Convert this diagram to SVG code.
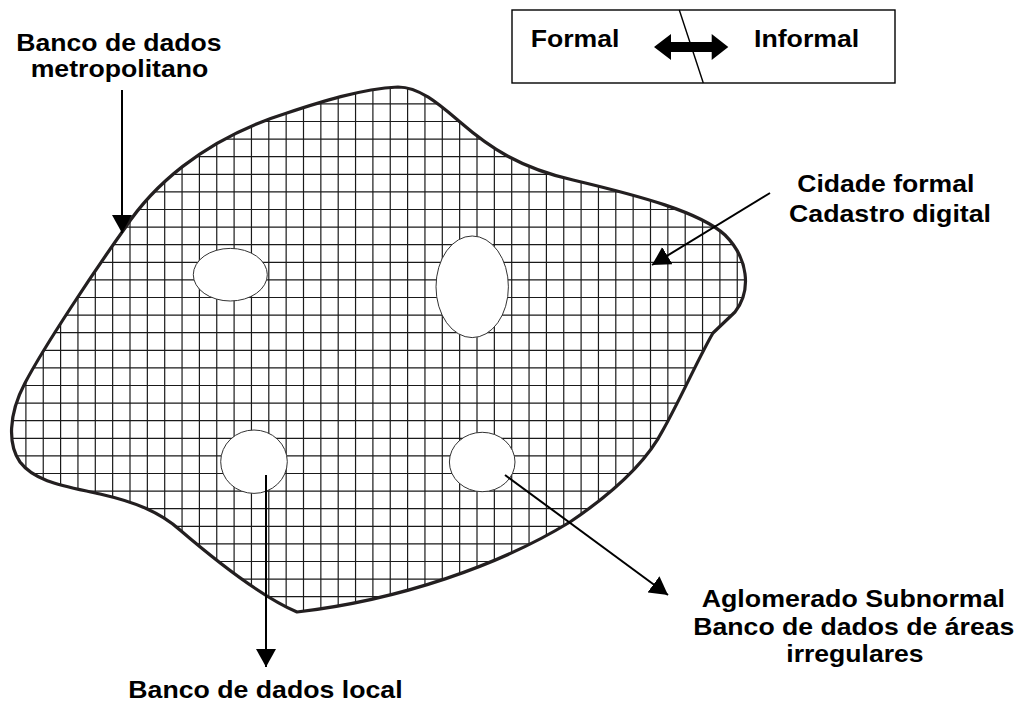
<svg xmlns="http://www.w3.org/2000/svg" width="1017" height="704" viewBox="0 0 1017 704">
<style>
.lbl{font-family:"Liberation Sans",Arial,sans-serif;font-weight:bold;font-size:24px;fill:#000}
.grid{fill:none;stroke:#1a1a1a;stroke-width:1.2}
.hole{fill:#fff;stroke:#333;stroke-width:1}
.blob{fill:none;stroke:#231f20;stroke-width:3.2;stroke-linejoin:round}
.conn{stroke:#000;stroke-width:2;fill:none}
</style>
<defs>
<path id="blobPath" d="M297,612 C262,597 215,560 180,530 C160,512 135,502 100,494 C65,486 35,482 20,462 C8,445 8,415 25,383 C45,345 95,270 125,228 C150,190 200,140 287,113 C320,102 360,89 398,87 C420,87 440,105 460,122 C490,148 520,168 573,180 C640,196 700,212 725,235 C748,258 752,290 735,312 L713,333 C700,355 680,400 663,430 C645,465 610,495 570,522 C500,565 400,600 297,612 Z"/>
<clipPath id="blobClip"><use href="#blobPath"/></clipPath>
<marker id="ah" viewBox="0 0 18 20" refX="18" refY="10" markerWidth="18" markerHeight="20" markerUnits="userSpaceOnUse" orient="auto">
<path d="M0,0 L18,10 L0,20 Z" fill="#000"/>
</marker>
</defs>
<rect width="1017" height="704" fill="#fff"/>

<g id="city">
<use href="#blobPath" fill="#fff"/>
<g clip-path="url(#blobClip)">
<path class="grid" d="M8.55 80V620M25.9 80V620M43.25 80V620M60.6 80V620M77.95 80V620M95.3 80V620M112.65 80V620M130 80V620M147.35 80V620M164.7 80V620M182.05 80V620M199.4 80V620M216.75 80V620M234.1 80V620M251.45 80V620M268.8 80V620M286.15 80V620M303.5 80V620M320.85 80V620M338.2 80V620M355.55 80V620M372.9 80V620M390.25 80V620M407.6 80V620M424.95 80V620M442.3 80V620M459.65 80V620M477 80V620M494.35 80V620M511.7 80V620M529.05 80V620M546.4 80V620M563.75 80V620M581.1 80V620M598.45 80V620M615.8 80V620M633.15 80V620M650.5 80V620M667.85 80V620M685.2 80V620M702.55 80V620M719.9 80V620M737.25 80V620M754.6 80V620"/>
<path class="grid" d="M0 86.3H760M0 103.9H760M0 121.5H760M0 139.1H760M0 156.7H760M0 174.3H760M0 191.9H760M0 209.5H760M0 227.1H760M0 244.7H760M0 262.3H760M0 279.9H760M0 297.5H760M0 315.1H760M0 332.7H760M0 350.3H760M0 367.9H760M0 385.5H760M0 403.1H760M0 420.7H760M0 438.3H760M0 455.9H760M0 473.5H760M0 491.1H760M0 508.7H760M0 526.3H760M0 543.9H760M0 561.5H760M0 579.1H760M0 596.7H760M0 614.3H760"/>
</g>
<use href="#blobPath" class="blob"/>
</g>

<g id="hole1"><ellipse class="hole" cx="230.3" cy="274.7" rx="37" ry="26.3"/></g>
<g id="hole2"><ellipse class="hole" cx="472.2" cy="286.8" rx="36.2" ry="50.8"/></g>
<g id="hole3"><ellipse class="hole" cx="254" cy="461.7" rx="33.3" ry="31.7"/></g>
<g id="hole4"><ellipse class="hole" cx="482.2" cy="462" rx="32.8" ry="29.7"/></g>

<g id="legend">
<rect x="512" y="10" width="383" height="73" fill="#fff" stroke="#000" stroke-width="1.4"/>
<line x1="679.3" y1="10" x2="703.3" y2="83" stroke="#000" stroke-width="1.4"/>
<polygon points="654,47 671,34 671,42 711.7,42 711.7,34 728.3,47 711.7,60 711.7,52 671,52 671,60" fill="#000"/>
<text class="lbl" x="530.7" y="46.7" textLength="88.7" lengthAdjust="spacingAndGlyphs">Formal</text>
<text class="lbl" x="754" y="46.7" textLength="105.3" lengthAdjust="spacingAndGlyphs">Informal</text>
</g>

<g id="label-metropolitano">
<text class="lbl" x="16.3" y="50.7" textLength="205.3" lengthAdjust="spacingAndGlyphs">Banco de dados</text>
<text class="lbl" x="30.7" y="77.3" textLength="177.6" lengthAdjust="spacingAndGlyphs">metropolitano</text>
</g>
<g id="label-formal">
<text class="lbl" x="797.3" y="191.7" textLength="177" lengthAdjust="spacingAndGlyphs">Cidade formal</text>
<text class="lbl" x="789" y="221.7" textLength="202" lengthAdjust="spacingAndGlyphs">Cadastro digital</text>
</g>
<g id="label-aglomerado">
<text class="lbl" x="701.7" y="606.7" textLength="303.3" lengthAdjust="spacingAndGlyphs">Aglomerado Subnormal</text>
<text class="lbl" x="693.3" y="635" textLength="321" lengthAdjust="spacingAndGlyphs">Banco de dados de áreas</text>
<text class="lbl" x="786.3" y="661.7" textLength="137.3" lengthAdjust="spacingAndGlyphs">irregulares</text>
</g>
<g id="label-local">
<text class="lbl" x="128.3" y="698.3" textLength="274.3" lengthAdjust="spacingAndGlyphs">Banco de dados local</text>
</g>

<g id="connectors">
<line class="conn" x1="122" y1="90" x2="122" y2="233" marker-end="url(#ah)"/>
<line class="conn" x1="770" y1="193" x2="652" y2="265" marker-end="url(#ah)"/>
<line class="conn" x1="266" y1="475" x2="266" y2="667" marker-end="url(#ah)"/>
<line class="conn" x1="505" y1="475" x2="668" y2="595" marker-end="url(#ah)"/>
</g>
</svg>
